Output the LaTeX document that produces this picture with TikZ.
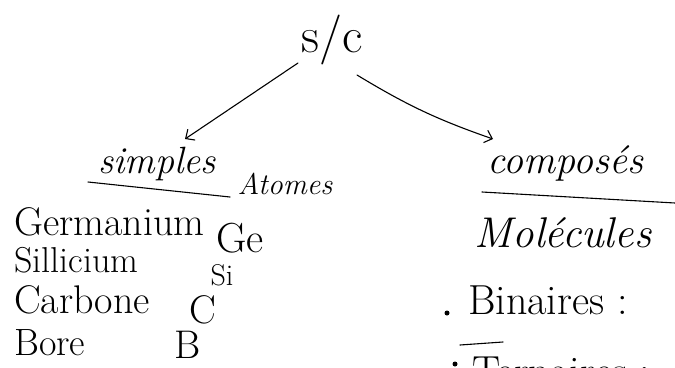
\documentclass[tikz,border=0pt]{standalone}
\usepackage{tikz}
\usetikzlibrary{arrows.meta}

\tikzset{
  ink/.style={line width=1.1pt,line cap=round},
  tip/.style={-{Straight Barb[length=7pt,width=13pt]}},
  hand/.style={inner sep=0pt,font=\fontsize{#1}{#1}\selectfont},
}

\begin{document}
\begin{tikzpicture}[x=1pt,y=-1pt]
		%%%%% FRAME %%%%%
		\useasboundingbox (0,0) rectangle (675,367);
		\clip (0,0) rectangle (675,367);
		\fill[white] (0,0) rectangle (675,367);
		
		%%%%% TOP %%%%%
		\node[hand=50] (sc) at (332, 40) {s/c};
		\coordinate (sc-l) at (298, 63);
		\coordinate (sc-r) at (357, 75);
		\coordinate (simples-tip) at (185, 139);
		\coordinate (composes-tip) at (493, 139);
		\draw[ink,tip] (sc-l) -- (simples-tip);
		\draw[ink,tip] (sc-r) to[bend right=6] (composes-tip);
		
		%%%%% LEFT %%%%%
		\node[hand=38] (simples) at (157, 164) {\itshape simples};
		\draw[ink] (88, 182) -- (230, 197);
		\node[hand=30] (atomes) at (285, 184) {\itshape Atomes};
		
		\node[hand=40,anchor=west] (germanium) at (14, 222) {Germanium};
		\node[hand=42] (ge) at (240, 238) {Ge};
		\node[hand=36,anchor=west] (sillicium) at (14, 260) {Sillicium};
		\node[hand=30] (si) at (222, 275) {Si};
		\node[hand=40,anchor=west] (carbone) at (14, 300) {Carbone};
		\node[hand=40] (c) at (203, 310) {C};
		\node[hand=38,anchor=west] (bore) at (14, 343) {Bore};
		\node[hand=40] (b) at (188, 345) {B};
		
		%%%%% RIGHT %%%%%
		\node[hand=40] (composes) at (565, 163) {\itshape composés};
		\draw[ink] (482, 192) -- (675, 203);
		\node[hand=43] (molecules) at (563, 233) {\itshape Molécules};
		
		\node[hand=42,anchor=west] (binaires) at (468, 300) {Binaires :};
		\fill (447, 313) circle (2.5);
		\draw[ink] (460, 345) -- (503, 342);
		\node[hand=42,anchor=west] (ternaires) at (472, 371) {Ternaires :\quad C};
		\fill (455, 364) circle (2.5);
	\end{tikzpicture}
\end{document}
